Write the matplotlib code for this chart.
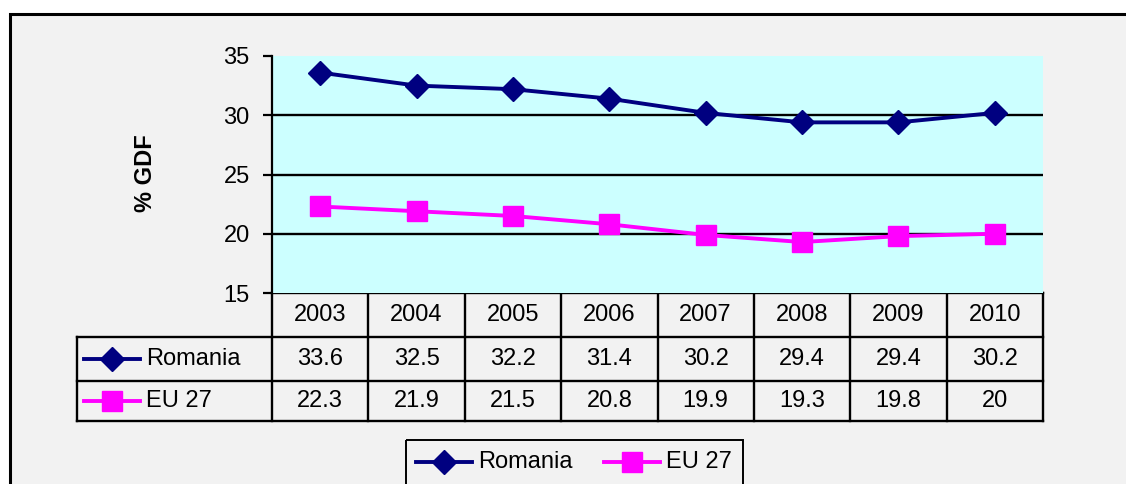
"""
Romania vs EU 27 - % GDF, line chart with data table underneath
"""
import matplotlib.pyplot as plt
from matplotlib.patches import Rectangle

plt.rcParams['font.family'] = ['Liberation Sans', 'DejaVu Sans']

years = ['2003', '2004', '2005', '2006', '2007', '2008', '2009', '2010']
romania = [33.6, 32.5, 32.2, 31.4, 30.2, 29.4, 29.4, 30.2]
eu27 = [22.3, 21.9, 21.5, 20.8, 19.9, 19.3, 19.8, 20]
series_names = ['Romania', 'EU 27']
y_ticks = [15, 20, 25, 30, 35]

W, H = 1126, 484
FS = 17
fig = plt.figure(figsize=(W / 100, H / 100), dpi=100, facecolor='white')

# full-figure canvas in pixel coordinates for frame, table and legend
cv = fig.add_axes([0, 0, 1, 1])
cv.set_xlim(0, W)
cv.set_ylim(H, 0)
cv.axis('off')

cv.add_patch(Rectangle((9.5, 14), 1200, 600, facecolor='#F2F2F2',
                       edgecolor='black', lw=2.2))

# plot area
px0, px1, py0, py1 = 272, 1043, 56, 293
ax = fig.add_axes([px0 / W, 1 - py1 / H, (px1 - px0) / W, (py1 - py0) / H])
ax.set_facecolor('#CCFFFF')
ax.set_xlim(-0.5, len(years) - 0.5)
ax.set_ylim(15, 35)
ax.set_yticks(y_ticks)
ax.set_xticks([])
for s in ['top', 'right', 'bottom']:
    ax.spines[s].set_visible(False)
ax.spines['left'].set_linewidth(1.6)
ax.tick_params(axis='y', length=6.5, width=1.6, pad=9.5, labelsize=FS)
for v in y_ticks[1:-1]:
    ax.axhline(v, color='black', lw=1.7, zorder=1)

styles = [dict(color='#000080', marker='D', ms=12),
          dict(color='#FF00FF', marker='s', ms=14.5)]
x = range(len(years))
for vals, st in zip([romania, eu27], styles):
    ax.plot(x, vals, color=st['color'], lw=2.8, marker=st['marker'],
            ms=st['ms'], mec=st['color'], mfc=st['color'], zorder=3,
            clip_on=False)

cv.text(145, 173, '% GDF', rotation=90, ha='center', va='center',
        fontsize=FS, fontweight='bold')

# data table
col_w = (px1 - px0) / len(years)
row_y = [293, 337, 381, 421]
tx0 = 77
lk = dict(color='black', lw=1.7)
cv.plot([px0, px1], [row_y[0]] * 2, **lk)
for yy in row_y[1:]:
    cv.plot([tx0, px1], [yy] * 2, **lk)
cv.plot([tx0, tx0], [row_y[1], row_y[3]], **lk)
for i in range(len(years) + 1):
    xx = px0 + i * col_w
    cv.plot([xx, xx], [row_y[0], row_y[3]], **lk)

for i, yr in enumerate(years):
    cx = px0 + (i + 0.5) * col_w
    cv.text(cx, (row_y[0] + row_y[1]) / 2, yr, ha='center', va='center', fontsize=FS)
    cv.text(cx, (row_y[1] + row_y[2]) / 2, f'{romania[i]:g}', ha='center', va='center', fontsize=FS)
    cv.text(cx, (row_y[2] + row_y[3]) / 2, f'{eu27[i]:g}', ha='center', va='center', fontsize=FS)

def legend_key(x0, y, st, name):
    cv.plot([x0, x0 + 56], [y, y], color=st['color'], lw=2.8)
    cv.plot([x0 + 28], [y], marker=st['marker'], ms=st['ms'],
            color=st['color'], mec=st['color'])
    cv.text(x0 + 62, y, name, ha='left', va='center', fontsize=FS)

for k, (st, name) in enumerate(zip(styles, series_names)):
    legend_key(84, (row_y[k + 1] + row_y[k + 2]) / 2, st, name)

# legend box at the bottom
cv.add_patch(Rectangle((406, 439.5), 337, 60, facecolor='none',
                       edgecolor='black', lw=1.4))
legend_key(416, 462, styles[0], series_names[0])
legend_key(604, 462, styles[1], series_names[1])

plt.savefig('out.png', dpi=100, facecolor='white')
plt.close()
